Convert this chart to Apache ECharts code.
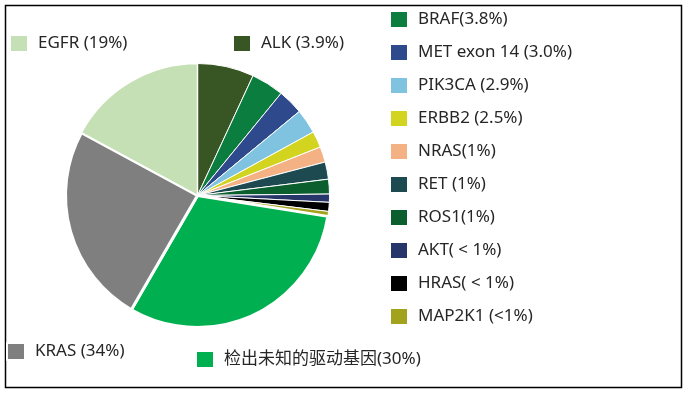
<!DOCTYPE html>
<html><head><meta charset="utf-8">
<script src="https://cdn.jsdelivr.net/npm/echarts@6/dist/echarts.min.js"></script>
<style>html,body{margin:0;padding:0;background:#fff}#c{width:686px;height:394px}</style>
</head><body><div id="c"></div>
<script>
// Legend labels (category names as shown)
const names = ['ALK (3.9%)','BRAF(3.8%)','MET exon 14 (3.0%)','PIK3CA (2.9%)','ERBB2 (2.5%)','NRAS(1%)','RET (1%)','ROS1(1%)','AKT( < 1%)','HRAS( < 1%)','MAP2K1 (<1%)','检出未知的驱动基因(30%)','KRAS (34%)','EGFR (19%)'];
// Slice sizes as drawn in the picture (% of the circle)
const values = [6.9,4.0,3.1,3.0,2.0,1.9,2.1,1.8,1.0,1.1,0.6,30.8,24.5,17.1];
const colors = ['#375623','#0b7d3f','#2f4a8c','#7fc3e0','#d2d420','#f4b183','#1c4a50','#0b5e2e','#27366a','#000000','#a3a21c','#00b050','#7f7f7f','#c5e0b4'];
const borders = [1,1,1,1,1,1,1,1,1,1,1,3,3,1.5];
// legend positions [left, top]
const legendPos = {
  'EGFR (19%)':[9,34], 'ALK (3.9%)':[232,34],
  'BRAF(3.8%)':[389,10], 'MET exon 14 (3.0%)':[389,43], 'PIK3CA (2.9%)':[389,76],
  'ERBB2 (2.5%)':[389,109], 'NRAS(1%)':[389,142], 'RET (1%)':[389,175],
  'ROS1(1%)':[389,208], 'AKT( < 1%)':[389,241], 'HRAS( < 1%)':[389,274],
  'MAP2K1 (<1%)':[389,307], 'KRAS (34%)':[6,342], '检出未知的驱动基因(30%)':[195,350]
};
const font = 'Noto Sans, Noto Sans CJK SC, sans-serif';
const legends = names.map(n => ({
  data:[n], left: legendPos[n][0], top: legendPos[n][1], padding:0,
  icon:'rect', itemWidth:18, itemHeight:17, selectedMode:false,
  textStyle:{fontFamily:font, fontSize:17, color:'#262626', padding:[0,0,0,5], lineHeight:17}
}));
const chart = echarts.init(document.getElementById('c'));
chart.setOption({
  animation:false,
  backgroundColor:'#fff',
  legend: legends,
  graphic:[{type:'rect', shape:{x:5.5,y:5.5,width:676,height:382}, style:{fill:'none', stroke:'#000', lineWidth:1.5}}],
  series:[{
    type:'pie', center:[197.5,195.5], radius:132, startAngle:90, clockwise:true,
    label:{show:false}, labelLine:{show:false}, emphasis:{disabled:true},
    data: names.map((n,i)=>({name:n, value:values[i], itemStyle:{color:colors[i], borderColor:'#fff', borderWidth:borders[i]}}))
  }]
});
</script></body></html>
